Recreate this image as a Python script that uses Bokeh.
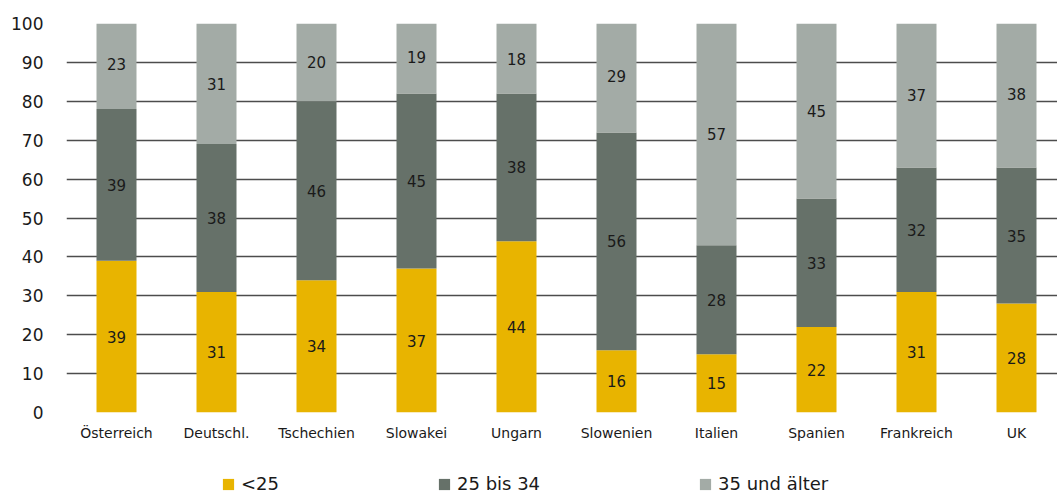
from bokeh.plotting import figure
from bokeh.layouts import column
from bokeh.models import ColumnDataSource, Range1d, FixedTicker, Legend, LegendItem
from bokeh.core.properties import value
from bokeh.embed import file_html
from bokeh.resources import INLINE

# Age structure by country (percent)
countries = ["Österreich", "Deutschl.", "Tschechien", "Slowakei", "Ungarn",
             "Slowenien", "Italien", "Spanien", "Frankreich", "UK"]
under_25 = [39, 31, 34, 37, 44, 16, 15, 22, 31, 28]
age_25_34 = [39, 38, 46, 45, 38, 56, 28, 33, 32, 35]
age_35_plus = [23, 31, 20, 19, 18, 29, 57, 45, 37, 38]
y_ticks = [0, 10, 20, 30, 40, 50, 60, 70, 80, 90, 100]

series_names = ["<25", "25 bis 34", "35 und älter"]
colors = ["#E8B400", "#667169", "#A3ABA6"]

FONT = "DejaVu Sans"
TEXT_COLOR = "#1a1a1a"

x = list(range(len(countries)))
b1 = [0] * len(x)
t1 = under_25
t2 = [a + b for a, b in zip(t1, age_25_34)]
t3 = [a + b for a, b in zip(t2, age_35_plus)]

src = ColumnDataSource(dict(
    x=x,
    b1=b1, t1=t1, t2=t2, t3=t3,
    m1=[(a + b) / 2 for a, b in zip(b1, t1)],
    m2=[(a + b) / 2 for a, b in zip(t1, t2)],
    m3=[(a + b) / 2 for a, b in zip(t2, t3)],
    l1=[str(v) for v in under_25],
    l2=[str(v) for v in age_25_34],
    l3=[str(v) for v in age_35_plus],
))

p = figure(width=1057, height=450, output_backend="svg", toolbar_location=None,
           x_range=Range1d(-0.5, 9.41), y_range=Range1d(0, 100),
           min_border_left=66, min_border_right=0, min_border_top=23,
           min_border_bottom=38)
p.outline_line_color = None
p.background_fill_color = "white"
p.border_fill_color = "white"

for bottom, top, color in (("b1", "t1", colors[0]), ("t1", "t2", colors[1]),
                           ("t2", "t3", colors[2])):
    p.vbar(x="x", bottom=bottom, top=top, width=0.4, source=src,
           fill_color=color, line_color=None)

for ycol, lcol in (("m1", "l1"), ("m2", "l2"), ("m3", "l3")):
    p.text(x="x", y=ycol, text=lcol, source=src, text_align="center",
           text_baseline="middle", text_font=value(FONT),
           text_font_size="15px", text_color=TEXT_COLOR)

# axes
p.xaxis.ticker = FixedTicker(ticks=x)
p.xaxis.major_label_overrides = {i: c for i, c in enumerate(countries)}
p.xaxis.major_label_text_font = FONT
p.xaxis.major_label_text_font_size = "14px"
p.xaxis.major_label_text_color = TEXT_COLOR
p.xaxis.major_label_standoff = 6
p.xaxis.axis_line_color = None
p.xaxis.major_tick_line_color = None
p.xaxis.minor_tick_line_color = None

p.yaxis.ticker = FixedTicker(ticks=y_ticks)
p.yaxis.major_label_text_font = FONT
p.yaxis.major_label_text_font_size = "17px"
p.yaxis.major_label_text_color = TEXT_COLOR
p.yaxis.major_label_standoff = 17
p.yaxis.axis_line_color = None
p.yaxis.major_tick_line_color = None
p.yaxis.minor_tick_line_color = None

p.xgrid.grid_line_color = None
p.ygrid.ticker = FixedTicker(ticks=y_ticks)
p.ygrid.grid_line_color = "#4d4d4d"
p.ygrid.grid_line_width = 1.5

# legend strip underneath the chart; zero-height bars serve as swatches
lf = figure(width=1057, height=44, output_backend="svg", toolbar_location=None,
            x_range=Range1d(0, 1), y_range=Range1d(0, 1),
            min_border=0, x_axis_location=None, y_axis_location=None)
lf.outline_line_color = None
lf.grid.visible = False
swatch_src = ColumnDataSource(dict(x=[0], top=[0]))
swatches = [lf.vbar(x="x", top="top", width=0, source=swatch_src,
                    fill_color=c, line_color=None) for c in colors]

legend = Legend(items=[LegendItem(label=n, renderers=[r]) for n, r in
                       zip(series_names, swatches)],
                orientation="horizontal", location=(155, 0),
                spacing=158, padding=0, margin=0,
                glyph_width=14, glyph_height=14, label_standoff=6,
                label_text_font=FONT, label_text_font_size="18px",
                label_text_color=TEXT_COLOR, label_height=14,
                border_line_color=None, background_fill_alpha=0)
lf.add_layout(legend, "center")

open("out.html", "w").write(file_html(column(p, lf), INLINE))
